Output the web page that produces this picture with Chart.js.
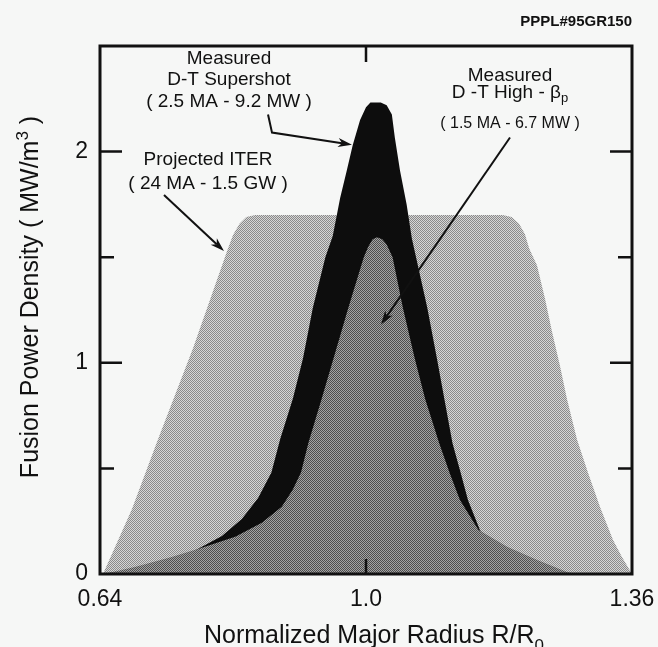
<!DOCTYPE html>
<html>
<head>
<meta charset="utf-8">
<script src="https://cdn.jsdelivr.net/npm/chart.js@4.4.1/dist/chart.umd.min.js"></script>
<style>
  html, body { margin: 0; background: #f6f7f6; }
  canvas { display: block; }
</style>
</head>
<body>
<canvas id="fusionChart" width="658" height="647"></canvas>
<script>
// Fusion power density profiles (MW/m^3) against normalized major radius R/R0

// Projected ITER (24 MA - 1.5 GW)
const iterR = [0.644, 0.683, 0.7185, 0.766, 0.812, 0.820, 0.829, 0.838, 0.850, 1.185, 1.197, 1.207, 1.215, 1.221,
  1.2314, 1.2422, 1.2517, 1.2625, 1.272, 1.2855, 1.3004, 1.3166, 1.3342, 1.3464, 1.36];
const iterP = [0, 0.305, 0.638, 1.07, 1.529, 1.605, 1.66, 1.69, 1.70, 1.70, 1.69, 1.66, 1.61, 1.54,
  1.462, 1.305, 1.148, 0.986, 0.829, 0.638, 0.481, 0.319, 0.162, 0.081, 0];

// Measured D-T supershot (2.5 MA - 9.2 MW)
const superR = [0.640, 0.690, 0.740, 0.778, 0.805, 0.832, 0.854, 0.872, 0.884, 0.901, 0.9147, 0.928, 0.945, 0.955,
  0.965, 0.974, 0.982, 0.992, 1.000, 1.006, 1.020, 1.028, 1.035, 1.039, 1.046, 1.055, 1.062, 1.069, 1.083, 1.096,
  1.106, 1.117, 1.128, 1.138, 1.154, 1.175, 1.200, 1.240, 1.280];
const superP = [0, 0.02, 0.06, 0.129, 0.18, 0.26, 0.36, 0.48, 0.64, 0.83, 1.02, 1.26, 1.50, 1.60,
  1.78, 1.91, 2.03, 2.15, 2.21, 2.233, 2.232, 2.219, 2.176, 2.067, 1.91, 1.75, 1.59, 1.48, 1.26, 1.02,
  0.83, 0.62, 0.48, 0.35, 0.21, 0.12, 0.07, 0.02, 0];

// Measured D-T high-beta_p (1.5 MA - 6.7 MW)
const hiBetaR = [0.645, 0.651, 0.687, 0.737, 0.782, 0.823, 0.859, 0.886, 0.901, 0.912, 0.922, 0.940, 0.956, 0.976,
  0.997, 1.003, 1.009, 1.015, 1.022, 1.028, 1.036, 1.050, 1.066, 1.080, 1.099, 1.113, 1.127, 1.152, 1.191, 1.231,
  1.272, 1.285];
const hiBetaP = [0, 0.005, 0.033, 0.081, 0.129, 0.176, 0.243, 0.319, 0.40, 0.48, 0.62, 0.83, 1.02, 1.26,
  1.50, 1.55, 1.585, 1.595, 1.585, 1.56, 1.50, 1.26, 1.02, 0.83, 0.62, 0.48, 0.352, 0.21, 0.129, 0.067,
  0.01, 0];

const xTicks = [0.64, 1.0, 1.36];
const xTickLabels = ['0.64', '1.0', '1.36'];
const xInnerTicks = [1.0];
const yTicks = [0, 1, 2];
const yMinorTicks = [0.5, 1.5];

// callout texts, anchored in data units (R, P) at the first line
const callouts = [
  { r: 0.8146, p: 2.438, size: 19, lines: [
    { dy: 0, parts: [['Measured']] },
    { dy: 21, parts: [['D-T Supershot']] },
    { dy: 43, parts: [['( 2.5 MA - 9.2 MW )']] }] },
  { r: 0.7862, p: 1.962, size: 19, lines: [
    { dy: 0, parts: [['Projected ITER']] },
    { dy: 24, parts: [['( 24 MA - 1.5 GW )']] }] },
  { r: 1.1949, p: 2.357, size: 19, lines: [
    { dy: 0, parts: [['Measured']] },
    { dy: 17, parts: [['D -T High - \u03B2'], ['p', 'sub']] },
    { dy: 47, size: 16, parts: [['( 1.5 MA - 6.7 MW )']] }] }
];

// arrow polylines in data units, last point is the head
const arrows = [
  [[0.8674, 2.176], [0.8728, 2.090], [0.981, 2.033]],
  [[0.7266, 1.795], [0.8078, 1.529]],
  [[1.1949, 2.067], [1.0203, 1.181]]
];

const FONT = '"Liberation Sans", Arial, Helvetica, sans-serif';
const INK = '#111';

function toPoints(xs, ys) {
  return xs.map((x, i) => ({ x, y: ys[i] }));
}

// two-tone halftone tile for the shaded areas
function stipple(dark, light) {
  const c = document.createElement('canvas');
  c.width = 2; c.height = 2;
  const g = c.getContext('2d');
  g.fillStyle = light; g.fillRect(0, 0, 2, 2);
  g.fillStyle = dark; g.fillRect(0, 0, 1, 1); g.fillRect(1, 1, 1, 1);
  return g.createPattern(c, 'repeat');
}

function drawParts(ctx, parts, cx, cy, size) {
  const fontOf = (kind) => (kind ? Math.round(size * 0.68) : size) + 'px ' + FONT;
  let total = 0;
  parts.forEach(([t, kind]) => { ctx.font = fontOf(kind); total += ctx.measureText(t).width; });
  let x = cx - total / 2;
  parts.forEach(([t, kind]) => {
    ctx.font = fontOf(kind);
    const off = kind === 'sub' ? size * 0.3 : kind === 'sup' ? -size * 0.4 : 0;
    ctx.fillText(t, x, cy + off);
    x += ctx.measureText(t).width;
  });
}

const decor = {
  id: 'decor',
  afterDraw(chart) {
    const { ctx, chartArea: a, scales: { x, y } } = chart;
    ctx.save();
    ctx.strokeStyle = INK;
    ctx.fillStyle = INK;

    // frame
    ctx.lineWidth = 3;
    ctx.strokeRect(a.left, a.top, a.right - a.left, a.bottom - a.top);

    // inward ticks on all four sides
    ctx.lineWidth = 2.5;
    ctx.beginPath();
    yTicks.concat(yMinorTicks).forEach(v => {
      if (v === 0) return;
      const len = yTicks.includes(v) ? 22 : 14;
      const py = y.getPixelForValue(v);
      ctx.moveTo(a.left, py); ctx.lineTo(a.left + len, py);
      ctx.moveTo(a.right, py); ctx.lineTo(a.right - len, py);
    });
    xInnerTicks.forEach(v => {
      const px = x.getPixelForValue(v);
      ctx.moveTo(px, a.bottom); ctx.lineTo(px, a.bottom - 15);
      ctx.moveTo(px, a.top); ctx.lineTo(px, a.top + 16);
    });
    ctx.stroke();

    // arrows
    ctx.lineWidth = 2;
    arrows.forEach(pts => {
      const p = pts.map(([r, v]) => [x.getPixelForValue(r), y.getPixelForValue(v)]);
      const [hx, hy] = p[p.length - 1];
      const [px, py] = p[p.length - 2];
      const ang = Math.atan2(hy - py, hx - px);
      ctx.beginPath();
      ctx.moveTo(p[0][0], p[0][1]);
      for (let i = 1; i < p.length - 1; i++) ctx.lineTo(p[i][0], p[i][1]);
      ctx.lineTo(hx - 10 * Math.cos(ang), hy - 10 * Math.sin(ang));
      ctx.stroke();
      ctx.beginPath();
      ctx.moveTo(hx, hy);
      ctx.lineTo(hx - 14 * Math.cos(ang) + 4.5 * Math.sin(ang), hy - 14 * Math.sin(ang) - 4.5 * Math.cos(ang));
      ctx.lineTo(hx - 10 * Math.cos(ang), hy - 10 * Math.sin(ang));
      ctx.lineTo(hx - 14 * Math.cos(ang) - 4.5 * Math.sin(ang), hy - 14 * Math.sin(ang) + 4.5 * Math.cos(ang));
      ctx.closePath();
      ctx.fill();
    });

    // callout texts
    ctx.textBaseline = 'middle';
    ctx.textAlign = 'left';
    callouts.forEach(c => {
      const cx = x.getPixelForValue(c.r);
      const cy = y.getPixelForValue(c.p);
      c.lines.forEach(l => drawParts(ctx, l.parts, cx, cy + l.dy, l.size || c.size));
    });

    // axis titles
    ctx.textBaseline = 'alphabetic';
    drawParts(ctx, [['Normalized Major Radius R/R'], ['0', 'sub']], 374, 643, 25);
    ctx.save();
    ctx.translate(38, 297);
    ctx.rotate(-Math.PI / 2);
    drawParts(ctx, [['Fusion Power Density ( MW/m'], ['3', 'sup'], [' )']], 0, 0, 25);
    ctx.restore();

    // figure id
    ctx.font = 'bold 15px ' + FONT;
    ctx.textAlign = 'right';
    ctx.fillText('PPPL#95GR150', a.right, 26);
    ctx.restore();
  }
};

const ctx = document.getElementById('fusionChart').getContext('2d');
const clear = 'rgba(0,0,0,0)';
new Chart(ctx, {
  type: 'line',
  data: {
    datasets: [
      {
        label: 'Measured D-T High-beta_p',
        data: toPoints(hiBetaR, hiBetaP),
        backgroundColor: stipple('#4e4e4e', '#a4a4a4'),
        borderColor: clear,
        borderWidth: 0,
        fill: 'origin'
      },
      {
        label: 'Measured D-T Supershot',
        data: toPoints(superR, superP),
        backgroundColor: '#0d0d0d',
        borderColor: clear,
        borderWidth: 0,
        fill: 'origin'
      },
      {
        label: 'Projected ITER',
        data: toPoints(iterR, iterP),
        backgroundColor: stipple('#8a8a8a', '#d6d6d6'),
        borderColor: clear,
        borderWidth: 0,
        fill: 'origin'
      }
    ]
  },
  options: {
    responsive: false,
    animation: false,
    events: [],
    elements: {
      point: { radius: 0 },
      line: { tension: 0 }
    },
    layout: { padding: { left: 0, right: 26, top: 46, bottom: 0 } },
    plugins: {
      legend: { display: false },
      tooltip: { enabled: false }
    },
    scales: {
      x: {
        type: 'linear',
        min: 0.64,
        max: 1.36,
        grid: { display: false, drawTicks: false },
        border: { display: false },
        afterBuildTicks: (s) => { s.ticks = xTicks.map(value => ({ value })); },
        afterFit: (s) => { s.height = 73; s.paddingLeft = 0; s.paddingRight = 0; },
        ticks: {
          padding: 12,
          maxRotation: 0,
          autoSkip: false,
          color: INK,
          font: { family: FONT, size: 23 },
          callback: (v, i) => xTickLabels[i]
        }
      },
      y: {
        min: 0,
        max: 2.5,
        grid: { display: false, drawTicks: false },
        border: { display: false },
        afterBuildTicks: (s) => { s.ticks = yTicks.map(value => ({ value })); },
        afterFit: (s) => { s.width = 100; },
        ticks: {
          padding: 12,
          color: INK,
          font: { family: FONT, size: 23 },
          callback: (v) => String(v)
        }
      }
    }
  },
  plugins: [decor]
});
</script>
</body>
</html>
